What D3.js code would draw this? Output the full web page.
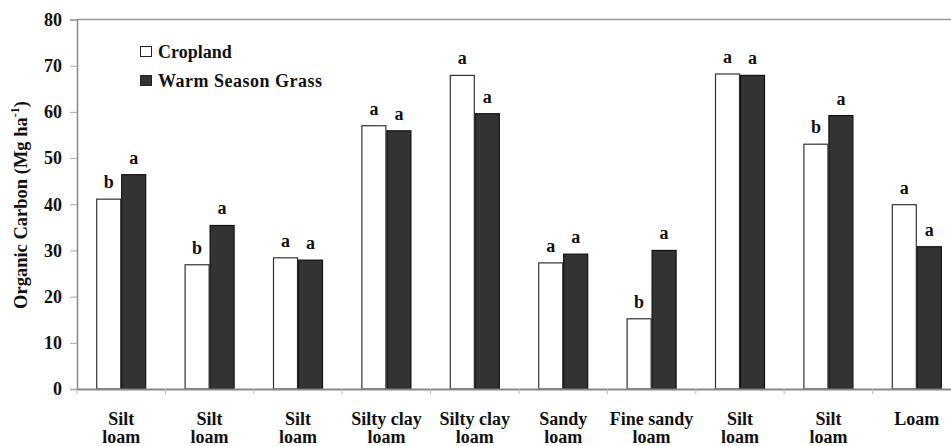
<!DOCTYPE html>
<html><head><meta charset="utf-8">
<script src="https://cdn.jsdelivr.net/npm/d3@7"></script>
<style>body{margin:0;background:#fff;overflow:hidden}svg{display:block}</style>
</head><body><svg id="c" width="951" height="446"></svg>
<script>
const categories = [["Silt","loam"],["Silt","loam"],["Silt","loam"],["Silty clay","loam"],["Silty clay","loam"],["Sandy","loam"],["Fine sandy","loam"],["Silt","loam"],["Silt","loam"],["Loam"]];
const seriesNames = ["Cropland","Warm Season Grass"];
const cropland = [41.1, 26.9, 28.4, 57.0, 67.9, 27.3, 15.2, 68.2, 53.0, 39.9];
const grass    = [46.4, 35.4, 27.9, 55.9, 59.6, 29.2, 30.0, 67.9, 59.2, 30.8];
const croplandSig = ["b","b","a","a","a","a","b","a","b","a"];
const grassSig    = ["a","a","a","a","a","a","a","a","a","a"];
const yTicks = [0,10,20,30,40,50,60,70,80];

const svg = d3.select("#c");
const L = 77, R = 961, T = 19.5, B = 389;
const y = d3.scaleLinear().domain([0,80]).range([B,T]);
const x0 = d3.scaleBand().domain(d3.range(categories.length)).range([L,R]).padding(0);
const groupW = 50;
const x1 = d3.scaleBand().domain(seriesNames).range([0,groupW]).padding(0);
const fills = {"Cropland":"#ffffff","Warm Season Grass":"#333333"};
const strokes = {"Cropland":"#333","Warm Season Grass":"#111"};
const data = [cropland, grass];
const sigs = [croplandSig, grassSig];

svg.append("line").attr("x1",L).attr("x2",R).attr("y1",T).attr("y2",T).attr("stroke","#999").attr("stroke-width",1.5);

const ya = svg.append("g").attr("transform",`translate(${L},0)`)
  .call(d3.axisLeft(y).tickValues(yTicks).tickSize(7).tickPadding(8));
ya.select(".domain").attr("stroke","#888").attr("stroke-width",1.5);
ya.selectAll(".tick line").attr("stroke","#aaa");
ya.selectAll(".tick text").attr("font-size",18).attr("fill","#111");

seriesNames.forEach((s,si)=>{
  svg.append("g").selectAll("rect").data(data[si]).join("rect")
    .attr("x",(d,i)=>x0(i)+(x0.bandwidth()-groupW)/2+x1(s)+0.5)
    .attr("y",d=>y(d))
    .attr("width",x1.bandwidth()-1)
    .attr("height",d=>y(0)-y(d))
    .attr("fill",fills[s]).attr("stroke",strokes[s]).attr("stroke-width",1.2);
  svg.append("g").selectAll("text").data(data[si]).join("text")
    .attr("x",(d,i)=>x0(i)+(x0.bandwidth()-groupW)/2+x1(s)+x1.bandwidth()/2)
    .attr("y",d=>y(d)-11)
    .attr("text-anchor","middle").attr("font-size",18)
    .text((d,i)=>sigs[si][i]);
});

const xa = svg.append("g").attr("transform",`translate(0,${B})`)
  .call(d3.axisBottom(x0).tickValues([]).tickSizeOuter(0));
xa.select(".domain").attr("stroke","#888").attr("stroke-width",1.8);
svg.append("g").selectAll("line").data(d3.range(categories.length+1)).join("line")
  .attr("x1",i=>L+i*x0.step()).attr("x2",i=>L+i*x0.step())
  .attr("y1",B).attr("y2",B+5).attr("stroke","#bbb");
const xl = svg.append("g").selectAll("text").data(categories).join("text")
  .attr("text-anchor","middle").attr("font-size",18)
  .attr("transform",(d,i)=>`translate(${x0(i)+x0.bandwidth()/2},0)`);
xl.each(function(d){
  const t = d3.select(this);
  d.forEach((ln,j)=>t.append("tspan").attr("x",0).attr("y",424.5+j*18.5).text(ln));
});

svg.append("text").attr("transform","translate(27,205) rotate(-90)")
  .attr("text-anchor","middle").attr("font-size",18.5)
  .html('Organic Carbon (Mg ha<tspan dy="-8" font-size="12">-1</tspan><tspan dy="8">)</tspan>');

const lg = svg.append("g");
seriesNames.forEach((s,i)=>{
  lg.append("rect").attr("x",140.5).attr("y",46.5+i*29).attr("width",11).attr("height",10)
    .attr("fill",fills[s]).attr("stroke","#222").attr("stroke-width",1);
  lg.append("text").attr("x",158).attr("y",57.5+i*29).attr("font-size",18)
    .attr("letter-spacing", i===1 ? 0.5 : 0).text(s);
});

svg.selectAll("text").style("font-family","'Liberation Serif','Times New Roman',serif")
  .style("font-weight","bold").attr("fill","#111");
</script></body></html>
